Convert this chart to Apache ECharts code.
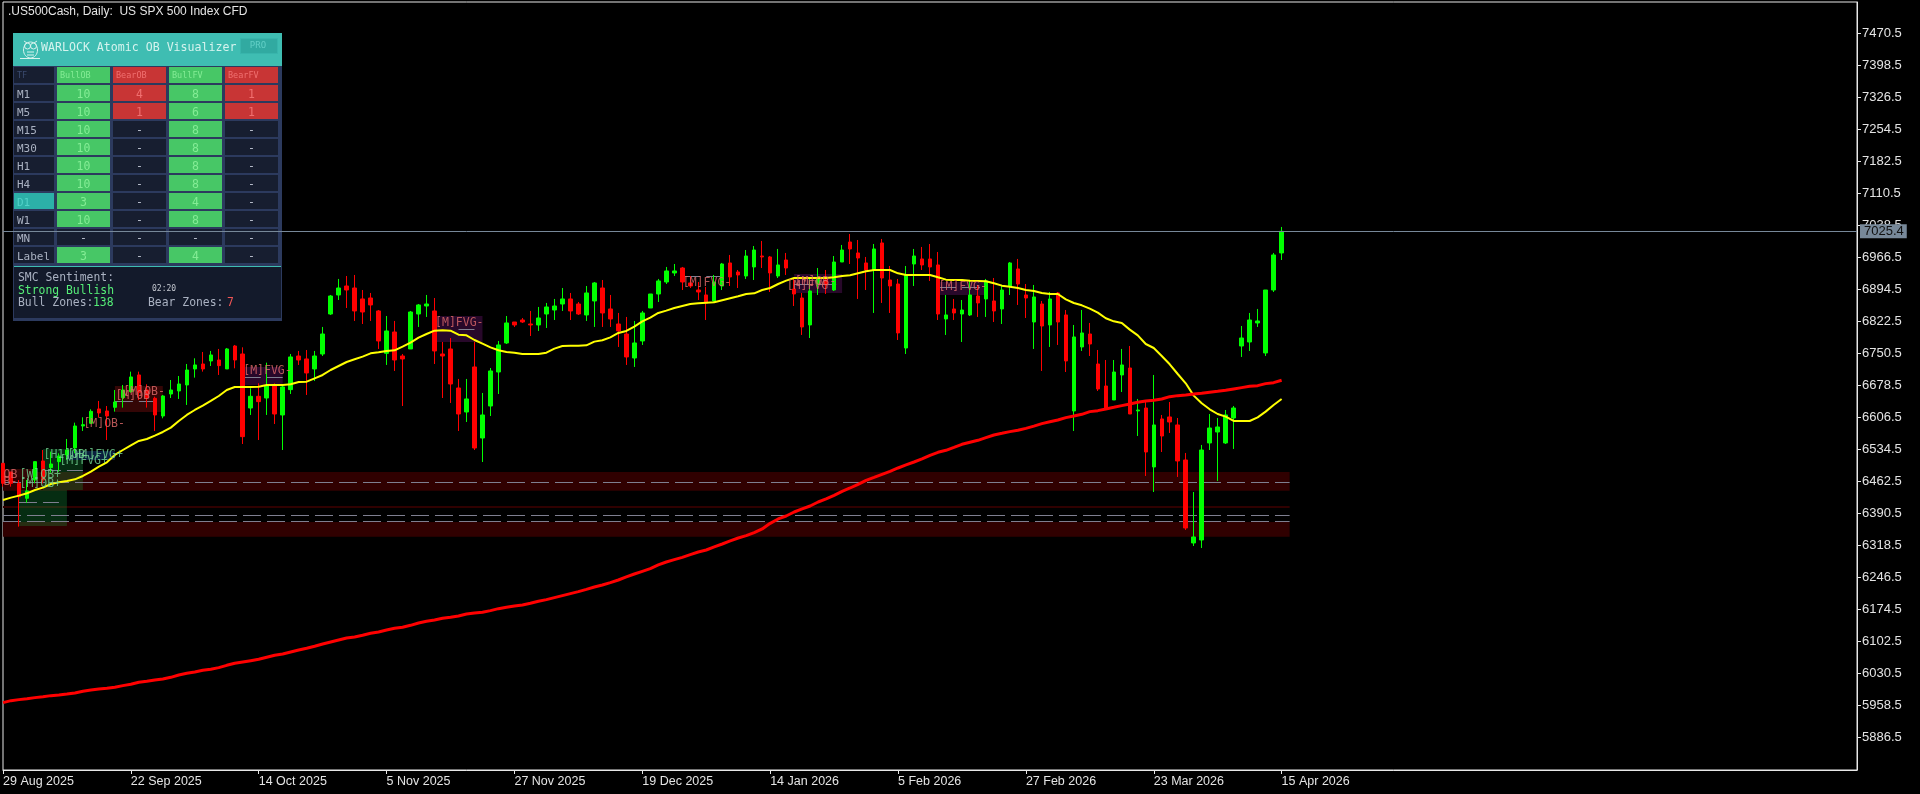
<!DOCTYPE html>
<html>
<head>
<meta charset="utf-8">
<title>US500Cash Daily</title>
<script src="https://cdn.jsdelivr.net/npm/echarts@6/dist/echarts.min.js"></script>
<style>
html, body { margin: 0; padding: 0; background: #000; }
#chart { width: 1920px; height: 794px; }
</style>
</head>
<body>
<div id="chart"></div>
<script>
// daily bars (10 per row)
var opens = [
6503.4,6483.9,6458.4,6424.7,6465.9,6508.7,6493.7,6507.2,6522.2,6537.9,
6587.4,6593.4,6625.7,6621.2,6629.4,6651.2,6664.7,6702.2,6668.4,6649.7,
6609.9,6659.4,6666.2,6679.7,6715.7,6726.9,6733.7,6735.9,6715.7,6767.4,
6749.4,6627.9,6654.2,6650.4,6678.9,6612.2,6669.2,6744.9,6738.2,6715.7,
6749.4,6839.4,6882.2,6902.4,6897.9,6873.2,6875.4,6846.2,6750.9,6798.9,
6744.9,6760.7,6839.4,6857.4,6846.2,6749.4,6760.7,6672.9,6618.9,6720.2,
6560.4,6632.4,6708.9,6774.2,6821.4,6825.9,6816.9,6814.7,6839.4,6848.4,
6861.9,6873.2,6861.9,6837.2,6868.7,6897.9,6850.7,6816.9,6794.4,6740.4,
6778.7,6852.9,6884.4,6911.4,6931.7,6942.9,6909.2,6893.4,6882.2,6868.7,
6902.4,6954.2,6933.9,6924.9,6945.2,6969.9,6967.7,6924.9,6960.9,6895.7,
6875.4,6814.7,6906.9,6915.9,6893.4,6956.4,7001.4,6976.7,6954.2,6938.4,
6999.2,6915.9,6906.9,6762.9,6951.9,6963.2,6963.2,6949.7,6828.2,6850.7,
6839.4,6837.2,6879.9,6873.2,6868.7,6850.7,6902.4,6940.7,6882.2,6821.4,
6861.9,6814.7,6886.7,6837.2,6621.2,6765.2,6794.4,6726.9,6677.4,6645.9,
6702.2,6717.9,6621.2,6627.9,6495.2,6603.2,6607.7,6589.7,6510.9,6324.2,
6330.9,6549.2,6573.9,6549.2,6605.4,6767.4,6776.4,6819.2,6751.7,6893.4,
6976.7
];
var closes = [
6458.4,6458.4,6428.4,6441.2,6507.2,6465.9,6501.9,6519.9,6533.4,6587.4,
6590.4,6620.4,6616.7,6609.9,6641.4,6668.4,6697.7,6663.2,6651.2,6612.2,
6654.9,6668.4,6681.9,6713.4,6724.7,6715.7,6747.2,6723.2,6760.7,6735.9,
6563.4,6654.2,6642.2,6677.4,6614.4,6675.2,6742.7,6735.9,6706.7,6744.9,
6794.4,6879.9,6897.9,6893.4,6846.2,6843.9,6859.7,6778.7,6801.2,6735.9,
6738.2,6843.9,6859.7,6861.9,6756.2,6744.9,6681.9,6614.4,6648.2,6537.9,
6612.2,6711.2,6769.7,6819.2,6814.7,6821.4,6814.7,6830.4,6855.2,6857.4,
6873.2,6846.2,6839.4,6886.7,6909.2,6841.7,6828.2,6801.2,6742.7,6774.2,
6841.7,6884.4,6913.7,6936.2,6936.2,6911.4,6902.4,6888.9,6864.2,6911.4,
6951.9,6922.7,6927.2,6969.9,6983.4,6967.7,6931.7,6949.7,6942.9,6884.4,
6810.2,6891.2,6918.2,6904.7,6956.4,6983.4,6985.7,6965.4,6938.4,6985.7,
6920.4,6902.4,6796.7,6927.2,6969.9,6949.7,6945.2,6839.4,6837.2,6841.7,
6848.4,6882.2,6864.2,6913.7,6846.2,6893.4,6954.2,6906.9,6875.4,6877.7,
6812.4,6873.2,6821.4,6733.7,6787.7,6796.7,6771.9,6670.7,6627.9,6708.9,
6724.7,6614.4,6623.4,6528.9,6589.7,6564.9,6596.4,6508.7,6357.9,6337.7,
6533.4,6582.9,6585.2,6612.2,6627.9,6785.4,6825.9,6823.7,6893.4,6972.2,
7025.4
];
var lows = [
6450.9,6450.9,6360.9,6414.9,6458.4,6458.4,6482.4,6484.7,6510.9,6525.9,
6576.2,6591.9,6606.2,6555.9,6619.7,6628.7,6662.4,6645.9,6628.7,6576.2,
6604.7,6650.4,6648.2,6634.7,6696.2,6709.7,6722.4,6702.2,6715.7,6717.2,
6546.9,6612.2,6555.9,6612.2,6591.9,6533.4,6659.4,6724.7,6657.2,6688.7,
6744.9,6837.2,6870.9,6852.9,6823.7,6816.9,6823.7,6760.7,6724.7,6711.2,
6632.4,6760.7,6810.2,6832.7,6726.9,6650.4,6639.2,6576.2,6596.4,6533.4,
6506.4,6609.9,6659.4,6771.9,6810.2,6819.2,6789.9,6801.2,6807.9,6825.9,
6846.2,6825.9,6837.2,6823.7,6810.2,6810.2,6810.2,6765.2,6724.7,6720.2,
6769.7,6852.9,6866.4,6906.9,6924.9,6893.4,6897.9,6870.9,6825.9,6864.2,
6893.4,6902.4,6897.9,6918.2,6915.9,6942.9,6888.9,6920.4,6927.2,6857.4,
6792.2,6785.4,6882.2,6884.4,6891.2,6956.4,6951.9,6873.2,6893.4,6841.7,
6864.2,6841.7,6780.9,6749.4,6902.4,6938.4,6913.7,6825.9,6792.2,6825.9,
6776.4,6834.9,6832.7,6832.7,6821.4,6816.9,6882.2,6859.7,6830.4,6760.7,
6711.2,6765.2,6769.7,6708.9,6576.2,6756.2,6744.9,6666.2,6625.7,6645.9,
6663.9,6614.4,6564.9,6474.9,6438.9,6528.9,6571.7,6472.7,6353.4,6317.4,
6312.9,6533.4,6463.7,6546.9,6535.7,6742.7,6756.2,6810.2,6744.9,6888.9,
6960.9
];
var highs = [
6503.4,6483.9,6465.9,6465.9,6507.2,6533.4,6529.7,6525.9,6558.2,6594.9,
6606.9,6624.9,6643.7,6632.4,6668.4,6679.7,6709.7,6709.7,6681.2,6653.4,
6657.2,6690.9,6699.9,6726.9,6739.7,6753.9,6756.2,6760.7,6762.9,6769.7,
6764.4,6672.2,6683.4,6729.9,6683.4,6677.4,6749.4,6756.2,6758.4,6756.2,
6810.2,6882.2,6918.2,6924.9,6927.2,6893.4,6886.7,6848.4,6834.9,6823.7,
6749.4,6846.2,6861.9,6882.2,6875.4,6776.4,6785.4,6693.2,6693.2,6776.4,
6661.7,6717.9,6778.7,6834.9,6821.4,6830.4,6846.2,6855.2,6864.2,6873.2,
6897.9,6886.7,6866.4,6902.4,6911.4,6915.9,6882.2,6841.7,6832.7,6823.7,
6846.2,6884.4,6918.2,6945.2,6951.9,6945.2,6924.9,6911.4,6900.2,6927.2,
6954.2,6972.2,6938.4,6983.4,6992.4,7003.7,6969.9,6985.7,6976.7,6919.7,
6886.7,6918.2,6942.9,6938.4,6969.9,6994.7,7019.4,7005.9,6967.7,6996.9,
7008.2,6947.4,6918.2,6947.4,6985.7,6990.2,6996.9,6978.9,6882.2,6873.2,
6870.9,6913.7,6904.7,6918.2,6920.4,6904.7,6956.4,6963.2,6906.9,6904.7,
6868.7,6888.9,6888.9,6848.4,6814.7,6848.4,6819.2,6758.4,6735.9,6735.9,
6760.7,6767.4,6648.2,6641.4,6702.2,6612.2,6641.4,6605.4,6526.7,6438.9,
6544.7,6614.4,6605.4,6623.4,6632.4,6812.4,6841.7,6850.7,6893.4,6976.7,
7035.2
];
// yellow moving average
var maFast = [
6420.9,6426.2,6430.7,6435.9,6443.4,6448.7,6456.9,6460.7,6463.7,6467.4,
6474.9,6484.7,6495.9,6505.7,6522.2,6533.4,6543.9,6553.7,6558.2,6565.7,
6573.9,6583.7,6598.7,6612.2,6623.4,6633.2,6643.7,6654.9,6668.4,6675.2,
6675.2,6675.2,6675.9,6679.7,6679.7,6679.7,6681.2,6686.4,6687.2,6694.7,
6702.2,6713.4,6722.4,6731.4,6737.4,6743.4,6750.9,6753.2,6756.2,6757.7,
6765.9,6774.9,6786.2,6794.4,6801.9,6802.7,6801.9,6792.9,6791.4,6780.9,
6772.7,6764.4,6757.7,6753.9,6752.4,6749.4,6749.4,6749.4,6752.4,6761.4,
6767.4,6768.2,6768.2,6768.9,6777.2,6780.2,6786.9,6796.7,6801.2,6810.9,
6822.9,6831.2,6841.7,6846.9,6852.9,6857.4,6861.9,6863.4,6864.9,6865.7,
6870.2,6874.7,6879.2,6884.4,6885.9,6893.4,6897.9,6906.9,6914.4,6920.4,
6920.4,6920.4,6920.4,6920.4,6921.9,6924.9,6926.4,6930.9,6935.4,6938.4,
6938.4,6938.4,6930.9,6927.2,6927.2,6927.2,6927.2,6921.9,6916.7,6915.9,
6915.9,6914.4,6913.7,6912.9,6908.4,6903.2,6900.9,6897.9,6893.4,6891.2,
6886.7,6884.4,6884.4,6872.4,6864.2,6858.9,6851.4,6842.4,6829.7,6822.9,
6819.2,6804.2,6791.4,6771.9,6762.9,6744.9,6726.2,6704.4,6683.4,6655.7,
6638.4,6624.9,6614.4,6608.4,6598.7,6598.7,6598.7,6606.9,6619.7,6634.7,
6648.2
];
// red moving average
var maSlow = [
5964.9,5969.4,5971.7,5973.9,5976.2,5978.4,5980.7,5982.2,5984.4,5986.7,
5990.4,5993.4,5995.7,5997.2,5999.4,6003.2,6006.2,6010.7,6012.9,6015.9,
6018.2,6021.9,6027.2,6030.9,6033.9,6037.7,6039.9,6043.7,6048.9,6053.4,
6056.4,6059.4,6062.4,6066.9,6071.4,6074.4,6078.9,6083.4,6087.2,6091.7,
6096.9,6101.4,6105.9,6110.4,6112.7,6116.4,6120.9,6123.9,6128.4,6132.2,
6134.4,6138.9,6144.2,6147.9,6150.9,6154.7,6156.9,6159.9,6164.4,6166.7,
6168.2,6171.9,6176.4,6179.4,6182.4,6184.7,6188.4,6192.9,6196.7,6201.2,
6205.7,6210.2,6214.7,6219.9,6225.2,6229.7,6234.9,6240.9,6247.7,6254.4,
6260.4,6266.4,6274.7,6281.4,6286.7,6291.9,6297.9,6303.9,6308.4,6315.2,
6321.9,6328.7,6335.4,6340.7,6347.4,6355.7,6368.4,6378.2,6384.9,6393.9,
6400.7,6407.4,6416.4,6423.2,6431.4,6440.4,6447.9,6456.2,6465.2,6471.9,
6478.7,6485.4,6492.9,6499.7,6506.4,6513.2,6521.4,6528.2,6532.7,6539.4,
6546.2,6550.7,6555.2,6561.2,6567.2,6570.9,6574.7,6577.7,6582.0,6587.0,
6592.7,6597.0,6600.9,6606.2,6609.9,6613.7,6619.7,6621.9,6625.7,6629.4,
6633.2,6636.9,6640.7,6643.7,6645.2,6648.2,6653.4,6655.7,6657.2,6659.4,
6660.9,6663.2,6665.4,6667.7,6670.7,6673.7,6676.7,6678.2,6682.7,6684.9,
6690.2
];

var lastPrice = 7025.4;
var priceTicks = [5886.5,5958.5,6030.5,6102.5,6174.5,6246.5,6318.5,6390.5,6462.5,6534.5,6606.5,6678.5,
    6750.5,6822.5,6894.5,6966.5,7038.5,7110.5,7182.5,7254.5,7326.5,7398.5,7470.5];
var dateLabels = ['29 Aug 2025','22 Sep 2025','14 Oct 2025','5 Nov 2025','27 Nov 2025','19 Dec 2025',
    '14 Jan 2026','5 Feb 2026','27 Feb 2026','23 Mar 2026','15 Apr 2026'];

// price zones drawn across the whole history: [top, bottom]
var zones = [[6483.9,6441.9],[6407.4,6402.9],[6371.4,6338.4]];
var zoneMids = [6460.7,6386.4,6372.9];
// smaller boxes: [first bar, last bar, top, bottom]
var greenBoxes = [[2,8,6443.4,6362.4],[5,10,6535.6,6443.4]];
var blueBoxes = [[8,14,6531.1,6510.9]];
var redBoxes = [[0,4,6490.6,6472.6],[14,20,6677.4,6619.0]];
var fvgBoxes = [[30,35,6720.1,6679.6],[54,60,6834.9,6776.4],[99,105,6929.4,6886.6],[117,123,6911.4,6882.1]];
// short mid lines: [first bar, last bar, price]
var shortMids = [[2,7,6414.9],[5,10,6486.9],[14,19,6642.9],[30,35,6696.9],[57,59,6804.9],[85,90,6924.9],[99,105,6906.9],[117,123,6899.4]];
// text marks: [text, bar, price]
var redMarks = [['[M]OB-',10,6591],['[M]OB-',15,6663],['[M]OB',14,6654],['[M]FVG-',30,6711],['OB',0,6477],['B-',0,6462],
    ['[M]FVG-',54,6820],['[M]FVG-',85,6909],['[M]OB-',99,6911],['[M]FVG',98,6902],['[M]FVG-',117,6900]];
var greenMarks = [['[H1]OB',5,6522],['[H4]FVG+',8,6522],['[M]FVG+',7,6508],['[W]OB+',2,6478],['[M]OB+',2,6456]];

// dashboard table
var panelTitle = 'WARLOCK Atomic OB Visualizer';
var tfRows = ['M1','M5','M15','M30','H1','H4','D1','W1','MN','Label'];
var panelHeads = ['BullOB','BearOB','BullFV','BearFV'];
var bullOB = ['10','10','10','10','10','10','3','10','-','3'];
var bearOB = ['4','1','-','-','-','-','-','-','-','-'];
var bullFV = ['8','6','8','8','8','8','4','8','-','4'];
var bearFV = ['1','1','-','-','-','-','-','-','-','-'];

var GREEN = '#00ff00', RED = '#ff0000';
var axisFont = '"Liberation Sans", sans-serif';
var monoFont = '"DejaVu Sans Mono", monospace';

var categories = [];
for (var b = 0; b <= 232; b++) {
    categories.push(b % 16 === 0 && b / 16 < dateLabels.length ? dateLabels[b / 16] : 'b' + b);
}
function isTick(index) {
    return index % 16 === 0 && index / 16 < dateLabels.length;
}

var candles = opens.map(function(o, i) {
    return [o, closes[i], lows[i], highs[i]];
});

function boxItems(list, color) {
    return list.map(function(z) {
        return [{coord: [z[0], z[2]], itemStyle: {color: color}}, {coord: [z[1], z[3]]}];
    });
}
function markItems(list, color) {
    return list.map(function(m) {
        return {value: [m[1], m[2]], label: {formatter: m[0], color: color}};
    });
}

var zoneItems = boxItems(zones.map(function(z) { return [0, 161, z[0], z[1]]; }), '#300000');
var areaItems = zoneItems
    .concat(boxItems(redBoxes, '#340606'))
    .concat(boxItems(greenBoxes, 'rgba(20,150,60,0.3)'))
    .concat(boxItems(blueBoxes, '#0a1f3e'))
    .concat(boxItems(fvgBoxes, '#28082a'));

var midItems = zoneMids.map(function(p) {
    return [{coord: [0, p]}, {coord: [161, p]}];
}).concat(shortMids.map(function(m) {
    return [{coord: [m[0], m[2]]}, {coord: [m[1], m[2]]}];
}));

// dashboard is drawn with graphic elements
function rect(x, y, w, h, fill, edge) {
    return {type: 'rect', silent: true, shape: {x: x, y: y, width: w, height: h}, style: {fill: fill, stroke: edge || null}};
}
function label(x, y, str, fill, size, align) {
    return {type: 'text', silent: true, style: {x: x, y: y, text: str, fill: fill, font: size + 'px ' + monoFont,
        align: align || 'left', verticalAlign: 'middle', textAlign: align || 'left', textVerticalAlign: 'middle'}};
}
function stroke(type, shape) {
    return {type: type, silent: true, shape: shape, style: {fill: 'none', stroke: '#d9f4ef', lineWidth: 1}};
}

function buildPanel() {
    var els = [];
    var cols = [[57, bullOB, 0], [113, bearOB, 1], [169, bullFV, 0], [225, bearFV, 1]];
    els.push(rect(13, 33, 269, 288, '#2c3a5e'));
    els.push(rect(13, 33, 269, 33, '#3fbdb2'));
    els.push(label(41, 48, panelTitle, '#d5f3ee', 11.6));
    els.push(rect(240.5, 38.5, 37, 15, '#31aaa1', '#38b5ac'));
    els.push(label(258, 46, 'PRO', '#62cfc6', 9, 'center'));
    // owl
    els.push(stroke('circle', {cx: 27.5, cy: 46, r: 3}));
    els.push(stroke('circle', {cx: 33.5, cy: 46, r: 3}));
    els.push(stroke('line', {x1: 24, y1: 41, x2: 27, y2: 43}));
    els.push(stroke('line', {x1: 37, y1: 41, x2: 34, y2: 43}));
    els.push(stroke('ellipse', {cx: 30.5, cy: 50, rx: 7, ry: 8}));
    els.push(stroke('line', {x1: 27, y1: 52, x2: 34, y2: 52}));
    els.push(stroke('line', {x1: 27, y1: 55, x2: 34, y2: 55}));
    els.push(stroke('line', {x1: 20, y1: 58.5, x2: 40, y2: 58.5}));

    els.push(rect(14, 67, 40, 16, '#171e30'));
    els.push(label(17, 76, 'TF', '#3a4a6e', 8.5));
    cols.forEach(function(c, n) {
        els.push(rect(c[0], 67, 53, 16, c[2] ? '#c83535' : '#47c766'));
        els.push(label(c[0] + 3, 76, panelHeads[n], c[2] ? '#f07070' : '#84ec95', 8.5));
    });
    tfRows.forEach(function(tf, r) {
        var y = 85 + 18 * r;
        var isCurrent = tf === 'D1';
        els.push(rect(14, y, 40, 16, isCurrent ? '#2cb0a8' : '#171e30'));
        els.push(label(17, y + 10, tf, isCurrent ? '#52d2c9' : '#a9b1c1', 11));
        cols.forEach(function(c) {
            var v = c[1][r], empty = v === '-';
            var fill = empty ? '#171e30' : (c[2] ? '#c83535' : '#47c766');
            var txt = empty ? '#b4bac8' : (c[2] ? '#f07070' : '#84ec95');
            els.push(rect(c[0], y, 53, 16, fill));
            els.push(label(c[0] + 26.5, y + 10, v, txt, 11.5, 'center'));
        });
    });
    els.push(rect(14, 266, 267, 1, '#3fbdb2'));
    els.push(rect(14, 267, 267, 51, '#131a2b'));
    els.push(label(18, 278, 'SMC Sentiment:', '#a9b1c1', 11.4));
    els.push(label(18, 291, 'Strong Bullish', '#55ee77', 11.4));
    els.push(label(152, 289, '02:20', '#c4c8d0', 8));
    els.push(label(18, 303, 'Bull Zones:', '#a9b1c1', 11.4));
    els.push(label(93, 303, '138', '#55ee77', 11.4));
    els.push(label(148, 303, 'Bear Zones:', '#a9b1c1', 11.4));
    els.push(label(227, 303, '7', '#f05555', 11.4));
    return els;
}

var chart = echarts.init(document.getElementById('chart'), null, {renderer: 'canvas'});
chart.setOption({
    animation: false,
    backgroundColor: '#000',
    title: {
        text: '.US500Cash, Daily:  US SPX 500 Index CFD',
        left: 8, top: 6, padding: 0,
        textStyle: {color: '#e4e4e4', fontSize: 12, fontWeight: 'normal', fontFamily: axisFont}
    },
    grid: {left: 2, top: 2, width: 1855, height: 768, show: true, borderColor: '#e8e8e8', borderWidth: 1, backgroundColor: 'transparent'},
    xAxis: {
        type: 'category',
        data: categories,
        boundaryGap: false,
        axisLine: {lineStyle: {color: '#e8e8e8', width: 1}},
        axisTick: {interval: isTick, length: 4, alignWithLabel: true, lineStyle: {color: '#e8e8e8'}},
        axisLabel: {interval: isTick, align: 'left', margin: 5, color: '#e4e4e4', fontSize: 12.5, fontFamily: axisFont},
        splitLine: {show: false}
    },
    yAxis: {
        type: 'value',
        position: 'right',
        min: 5813.375,
        max: 7541.375,
        scale: true,
        axisLine: {show: true, lineStyle: {color: '#e8e8e8', width: 1}},
        axisTick: {show: true, length: 4, customValues: priceTicks, lineStyle: {color: '#e8e8e8'}},
        axisLabel: {margin: 5, customValues: priceTicks, color: '#e4e4e4', fontSize: 13, fontFamily: axisFont,
            formatter: function(v) { return v.toFixed(1); }},
        splitLine: {show: false}
    },
    series: [
        {
            name: 'zones',
            type: 'line',
            data: [],
            z: 1,
            markArea: {silent: true, z: 1, data: areaItems},
            markLine: {silent: true, z: 1, symbol: 'none', animation: false, label: {show: false},
                lineStyle: {color: '#7f7f90', width: 1, type: [18, 6]}, data: midItems}
        },
        {
            name: 'US500Cash',
            type: 'candlestick',
            data: candles,
            barWidth: 4,
            z: 2,
            itemStyle: {color: GREEN, borderColor: GREEN, color0: RED, borderColor0: RED, borderWidth: 1}
        },
        {
            name: 'MA fast',
            type: 'line',
            data: maFast,
            z: 3,
            showSymbol: false,
            lineStyle: {color: '#ffff00', width: 2}
        },
        {
            name: 'MA slow',
            type: 'line',
            data: maSlow,
            z: 3,
            showSymbol: false,
            lineStyle: {color: '#ff0000', width: 3}
        },
        {
            name: 'marks',
            type: 'scatter',
            data: markItems(redMarks, '#e06a6a').concat(markItems(greenMarks, '#72d492')),
            symbolSize: 1,
            z: 4,
            clip: false,
            itemStyle: {color: 'transparent'},
            label: {show: true, position: 'right', distance: 0, fontSize: 11.5, fontFamily: monoFont}
        },
        {
            name: 'last price',
            type: 'line',
            data: [],
            z: 10,
            clip: false,
            markLine: {
                silent: true, z: 10, symbol: 'none', animation: false,
                lineStyle: {color: '#778899', width: 1, type: 'solid'},
                label: {show: true, position: 'end', distance: 3, formatter: lastPrice.toFixed(1), color: '#101010',
                    backgroundColor: '#778899', padding: [1, 3, 0, 4], fontSize: 13, fontFamily: axisFont},
                data: [{yAxis: lastPrice}]
            }
        }
    ],
    graphic: {elements: buildPanel()}
});
window.addEventListener('resize', function() { chart.resize(); });
</script>
</body>
</html>
